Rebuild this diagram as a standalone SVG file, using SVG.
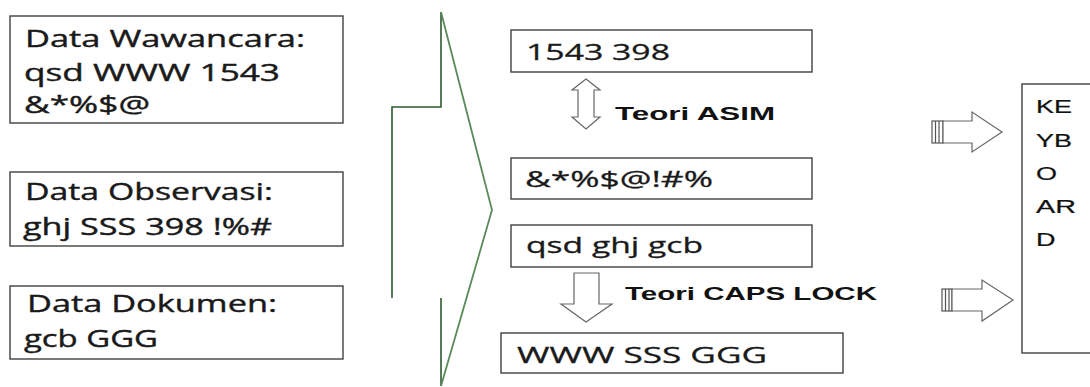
<svg xmlns="http://www.w3.org/2000/svg" width="1090" height="387" viewBox="0 0 1090 387">
<style>
.box{fill:#fff;stroke:#404040;stroke-width:1.4}
.t{font-family:"Open Sans","Liberation Sans",sans-serif;font-size:24px;fill:#1a1a1a;stroke:#1a1a1a;stroke-width:0.4}
.m{font-family:"Open Sans","Liberation Sans",sans-serif;font-size:22px;fill:#1a1a1a;stroke:#1a1a1a;stroke-width:0.3}
.b{font-family:"Liberation Sans",Arial,sans-serif;font-size:18px;font-weight:bold;fill:#111}
.k{font-family:"Liberation Sans",Arial,sans-serif;font-size:18px;fill:#111;stroke:#111;stroke-width:0.2}
.arr{fill:#fff;stroke:#666;stroke-width:1.2;stroke-linejoin:miter}
.g{fill:none;stroke:#2d5a2d;stroke-width:1.6}
.gd{fill:none;stroke:#5a8a5a;stroke-width:1.8}
.tail{fill:#fff;stroke:#555;stroke-width:1.2}
</style>
<g id="wawancara">
<rect class="box" x="10" y="16" width="333" height="107"/>
<text class="t" x="25" y="47" textLength="280" lengthAdjust="spacingAndGlyphs">Data Wawancara:</text>
<text class="t" x="24" y="81" textLength="256" lengthAdjust="spacingAndGlyphs">qsd WWW  1543</text>
<text class="t" x="24" y="113" textLength="126" lengthAdjust="spacingAndGlyphs">&amp;*%$@</text>
</g>
<g id="observasi">
<rect class="box" x="10" y="172" width="333" height="74"/>
<text class="t" x="25" y="200" textLength="248" lengthAdjust="spacingAndGlyphs">Data Observasi:</text>
<text class="t" x="23" y="235" textLength="249" lengthAdjust="spacingAndGlyphs">ghj SSS 398  !%#</text>
</g>
<g id="dokumen">
<rect class="box" x="10" y="286" width="333" height="73"/>
<text class="t" x="27" y="312" textLength="250" lengthAdjust="spacingAndGlyphs">Data Dokumen:</text>
<text class="t" x="24" y="347" textLength="134" lengthAdjust="spacingAndGlyphs">gcb GGG</text>
</g>
<g id="brace">
<polyline class="g" points="392,298 392,107 441,107 441,12"/>
<line class="g" x1="441" y1="298" x2="441" y2="386"/>
<polyline class="gd" points="441,12 492,210 441,386"/>
</g>
<g id="angka">
<rect class="box" x="511" y="30" width="301" height="42"/>
<text class="m" x="526" y="60" textLength="144" lengthAdjust="spacingAndGlyphs">1543 398</text>
</g>
<g id="simbol">
<rect class="box" x="511" y="158" width="301" height="41"/>
<text class="m" x="525" y="187" textLength="188" lengthAdjust="spacingAndGlyphs">&amp;*%$@!#%</text>
</g>
<g id="huruf">
<rect class="box" x="511" y="225" width="301" height="42"/>
<text class="m" x="526" y="253" textLength="177" lengthAdjust="spacingAndGlyphs">qsd ghj gcb</text>
</g>
<g id="kapital">
<rect class="box" x="501" y="333" width="342" height="40"/>
<text class="m" x="517" y="363" textLength="250" lengthAdjust="spacingAndGlyphs">WWW SSS GGG</text>
</g>
<g id="keyboard">
<rect class="box" x="1022" y="84" width="80" height="269"/>
<text class="k" transform="matrix(1.5,0,0,1,1036,113)">KE</text>
<text class="k" transform="matrix(1.5,0,0,1,1036,147)">YB</text>
<text class="k" transform="matrix(1.5,0,0,1,1036,180)">O</text>
<text class="k" transform="matrix(1.6,0,0,1,1036,213)">AR</text>
<text class="k" transform="matrix(1.5,0,0,1,1036,246)">D</text>
</g>
<g id="connectors">
<polygon class="arr" points="586,79 600,90 594,90 594,117 600,117 586,129 572,117 578,117 578,90 572,90"/>
<text class="b" x="615" y="120" textLength="160" lengthAdjust="spacingAndGlyphs">Teori  ASIM</text>
<polygon class="arr" points="574,273 599,273 599,304 612,304 586,322 561,304 574,304"/>
<text class="b" x="625" y="300" textLength="252" lengthAdjust="spacingAndGlyphs">Teori CAPS LOCK</text>
<g>
<rect class="tail" x="932" y="121" width="11" height="22"/>
<line x1="935.5" y1="121" x2="935.5" y2="143" stroke="#555" stroke-width="1.2"/>
<line x1="939" y1="121" x2="939" y2="143" stroke="#555" stroke-width="1.2"/>
<polygon class="arr" points="943,121 972,121 972,112 1002,132 972,152 972,143 943,143"/>
</g>
<g>
<rect class="tail" x="942" y="289" width="10" height="22"/>
<line x1="945.5" y1="289" x2="945.5" y2="311" stroke="#555" stroke-width="1.2"/>
<line x1="949" y1="289" x2="949" y2="311" stroke="#555" stroke-width="1.2"/>
<polygon class="arr" points="952,289 982,289 982,280 1013,300 982,321 982,311 952,311"/>
</g>
</g>
</svg>
